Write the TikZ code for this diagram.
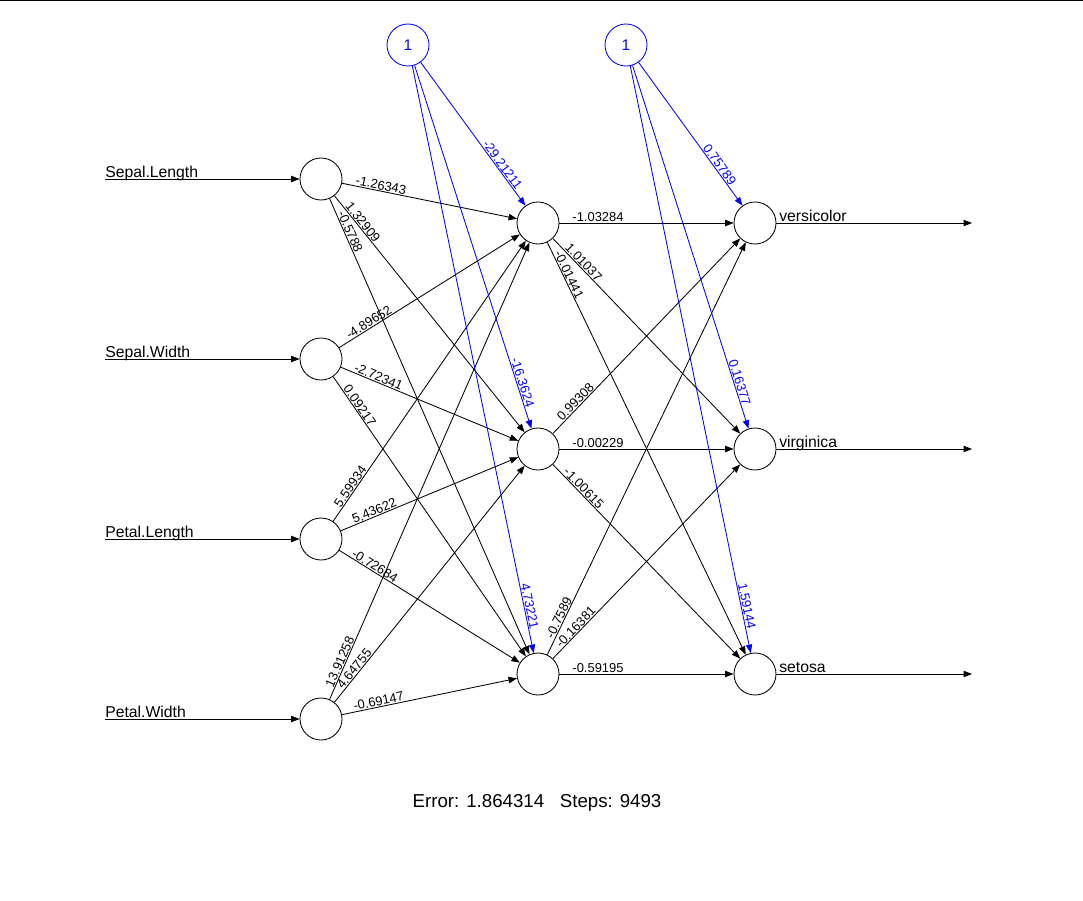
\documentclass[tikz,border=0pt]{standalone}
\usepackage{fontspec}
\setmainfont{Liberation Sans}
\usetikzlibrary{arrows.meta, positioning, calc}

\tikzset{
  neuron/.style={circle, draw, line width=0.6pt, minimum size=1.05cm, inner sep=0pt},
  biasnode/.style={neuron, draw=blue, text=blue, font=\fontsize{11}{13}\selectfont},
  edge/.style={-{Triangle[length=6pt,width=4.5pt]}, line width=0.6pt},
  biasedge/.style={edge, blue},
  wlab/.style={pos=1, sloped, above, inner sep=0.6pt, font=\fontsize{9.2}{10}\selectfont},
  vlab/.style={anchor=base west, inner sep=0pt, font=\fontsize{11.2}{13}\selectfont},
}

\begin{document}
\begin{tikzpicture}[x=0.025cm, y=-0.025cm]
    \useasboundingbox (0,0) rectangle (1083,900);
    \fill[white] (0,0) rectangle (1083,900);
    \draw[line width=1.2pt] (0,0.5) -- (1083,0.5);

    % layers
    \foreach \n/\y/\t in {1/179/Sepal.Length, 2/359/Sepal.Width, 3/539/Petal.Length, 4/719/Petal.Width} {
        \node[neuron] (i\n) at (321,\y) {};
        \coordinate (s\n) at (105,\y);
        \draw[edge] (s\n) -- (i\n);
        \node[vlab] (l\n) at (105,\y-2) {\t};
    }
    \foreach \n/\y in {1/223, 2/449, 3/674}
        \node[neuron] (h\n) at (538,\y) {};
    \foreach \n/\y/\t in {1/223/versicolor, 2/449/virginica, 3/674/setosa} {
        \node[neuron] (o\n) at (755,\y) {};
        \coordinate (e\n) at (972,\y);
        \draw[edge] (o\n) -- (e\n);
        \node[vlab] (r\n) at (779,\y-2) {\t};
    }
    \node[biasnode] (b1) at (408,45) {1};
    \node[biasnode] (b2) at (626,45) {1};

    % weights
    \foreach \s/\t/\w in {i1/h1/-1.26343, i1/h2/1.32909, i1/h3/-0.5788,
                          i2/h1/-4.89652, i2/h2/-2.72341, i2/h3/0.09217,
                          i3/h1/5.59934, i3/h2/5.43622, i3/h3/-0.72684,
                          i4/h1/13.91258, i4/h2/4.64755, i4/h3/-0.69147,
                          h1/o1/-1.03284, h1/o2/1.01037, h1/o3/-0.01441,
                          h2/o1/0.99308, h2/o2/-0.00229, h2/o3/-1.00615,
                          h3/o1/-0.7589, h3/o2/-0.16381, h3/o3/-0.59195} {
        \draw[edge] (\s) -- (\t);
        \path (\s) -- ($(\s)!1.5cm!(\t)$) node[wlab] {\w};
    }
    \foreach \s/\t/\w in {b1/h1/-29.21211, b1/h2/-16.3624, b1/h3/4.73221,
                          b2/o1/0.75789, b2/o2/0.16377, b2/o3/1.59144} {
        \draw[biasedge] (\s) -- (\t);
        \path (\s) -- ($(\t)!1.7cm!(\s)$) node[wlab, text=blue] {\w};
    }

    \node[font=\fontsize{13.3}{15}\selectfont] (err) at (537,803) {Error: 1.864314\ \ \ Steps: 9493};
\end{tikzpicture}
\end{document}
